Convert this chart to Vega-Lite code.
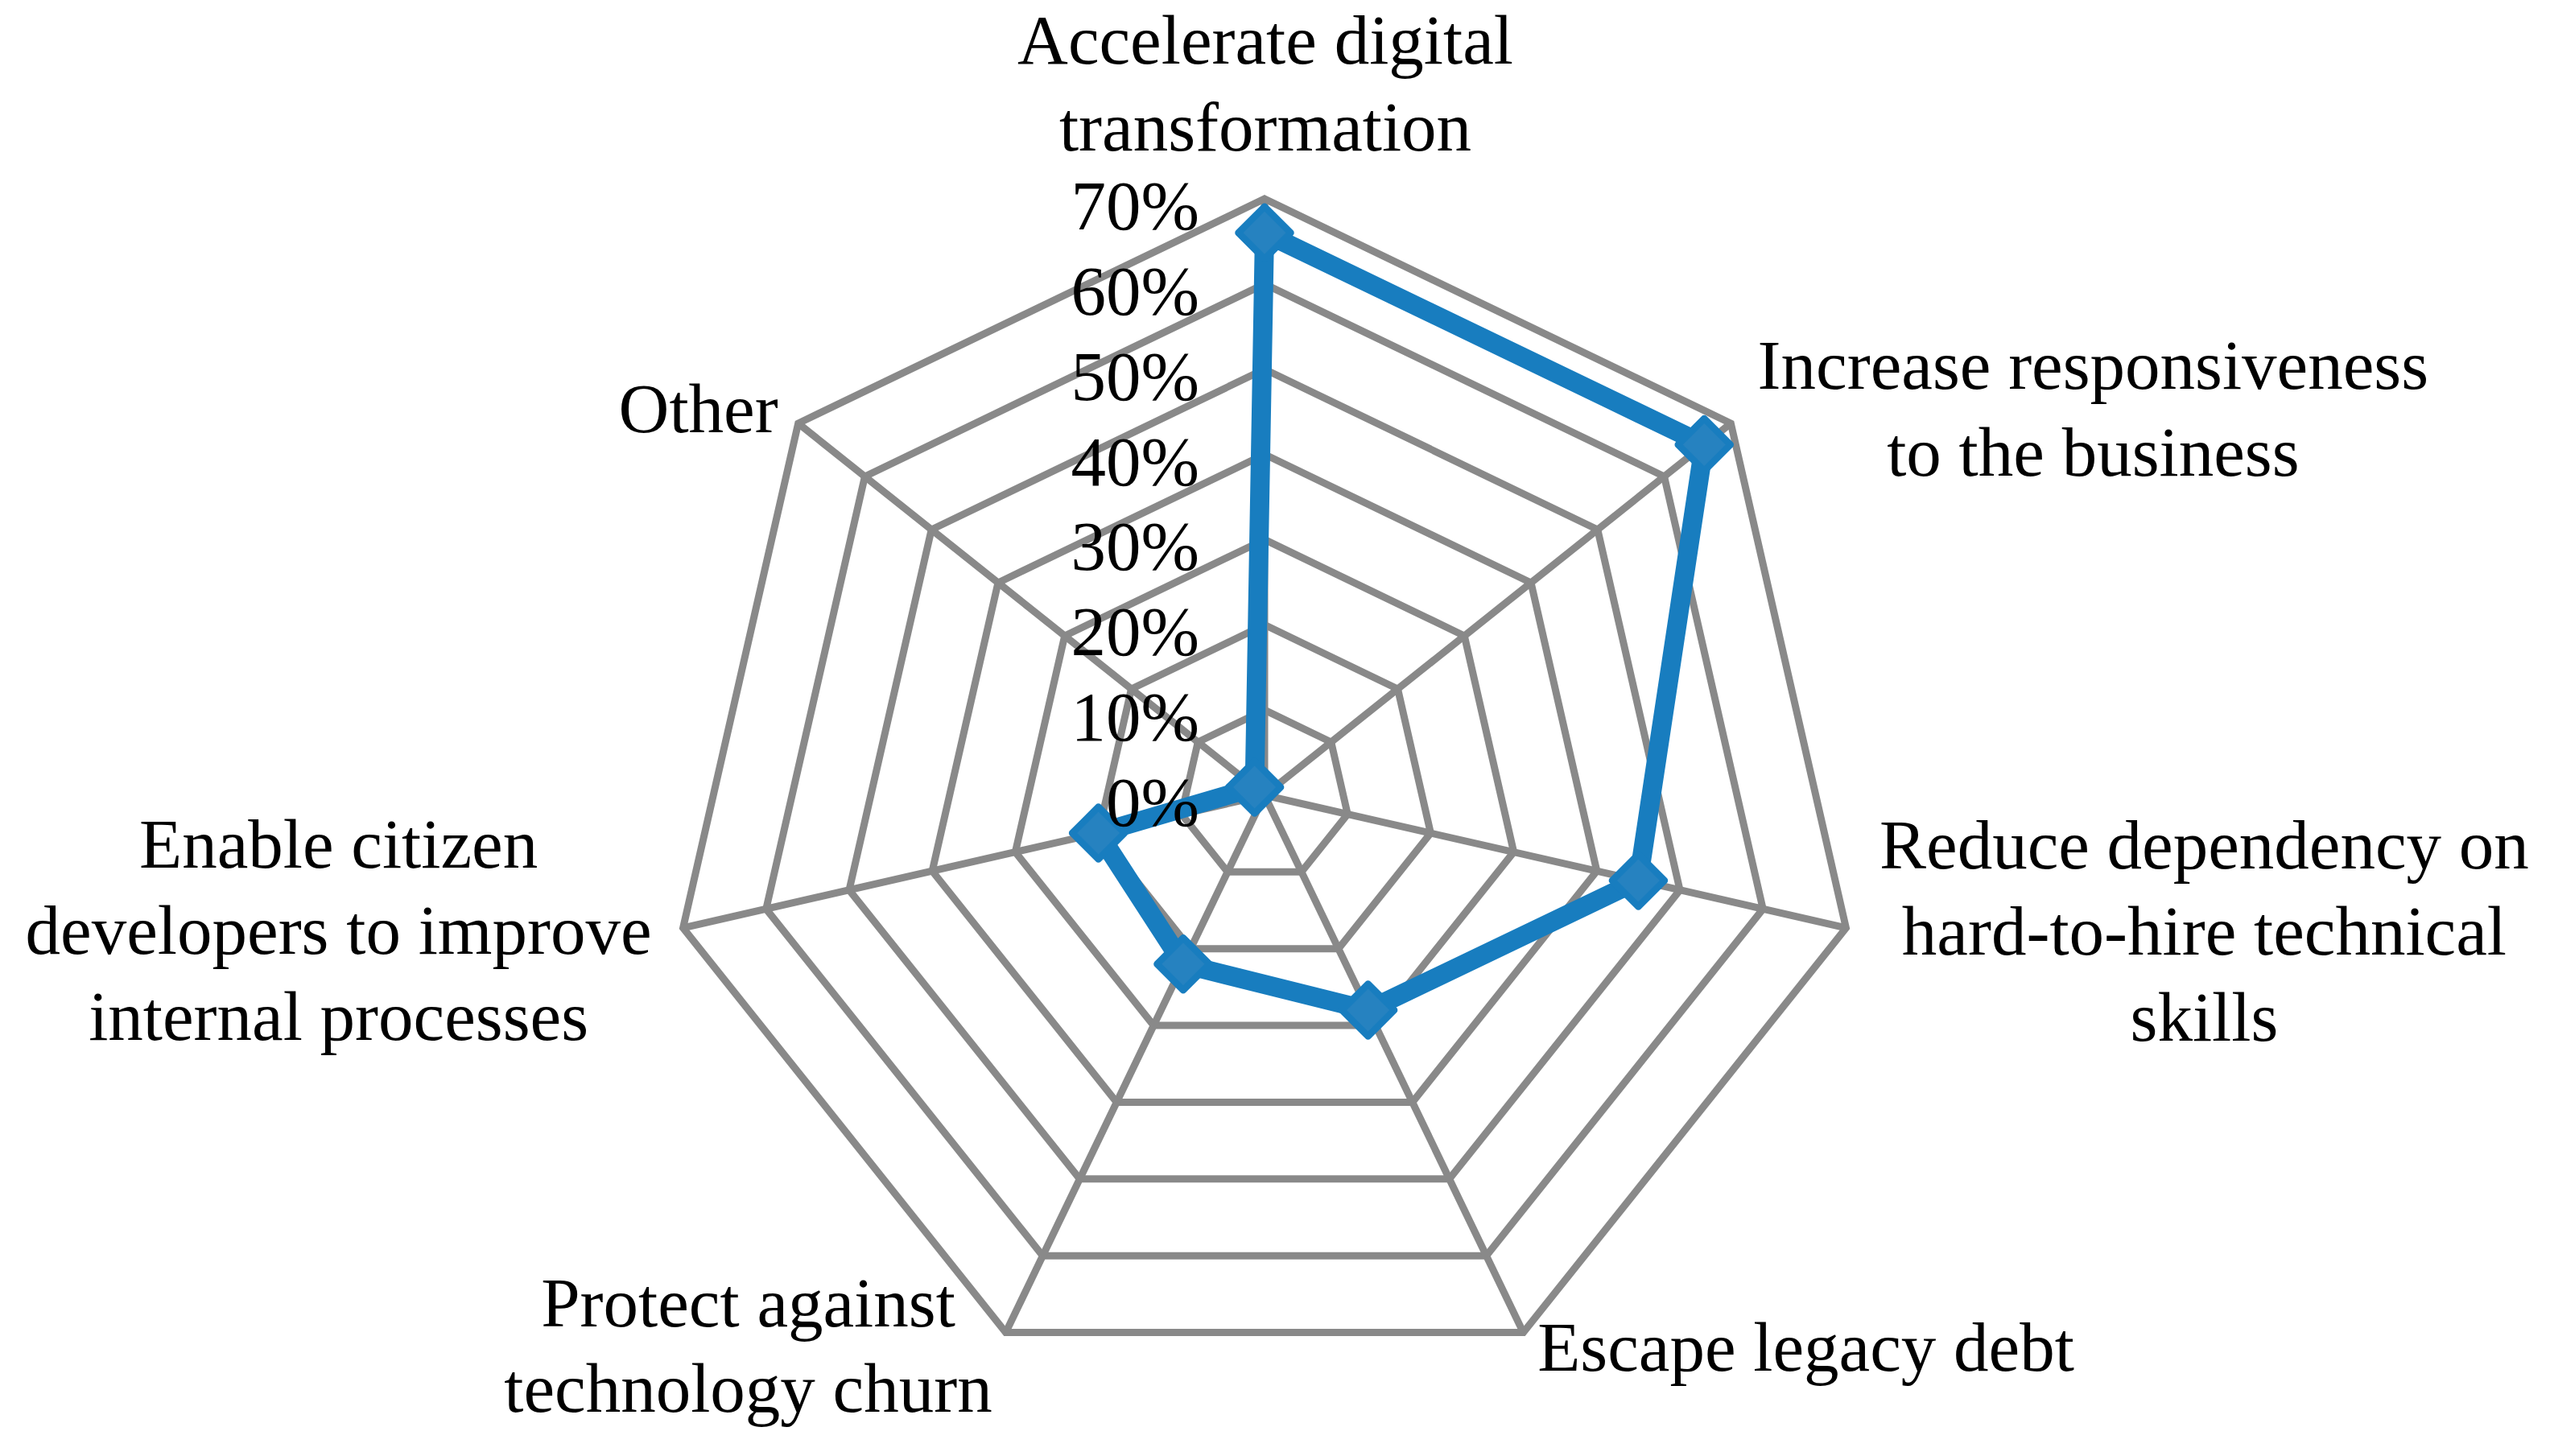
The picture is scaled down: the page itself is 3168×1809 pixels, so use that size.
{
  "$schema": "https://vega.github.io/schema/vega-lite/v6.json",
  "width": 3168,
  "height": 1809,
  "autosize": {"type": "none"},
  "padding": 0,
  "background": "#ffffff",
  "config": {
    "view": {"stroke": null},
    "text": {"font": "Liberation Serif", "fontSize": 87, "color": "#000000"}
  },
  "datasets": {
    "survey": [
      {"idx": 0, "category": "Accelerate digital\ntransformation", "value": 0.66},
      {"idx": 1, "category": "Increase responsiveness\nto the business", "value": 0.66},
      {"idx": 2, "category": "Reduce dependency on\nhard-to-hire technical\nskills", "value": 0.45},
      {"idx": 3, "category": "Escape legacy debt", "value": 0.28},
      {"idx": 4, "category": "Protect against\ntechnology churn", "value": 0.22},
      {"idx": 5, "category": "Enable citizen\ndevelopers to improve\ninternal processes", "value": 0.20},
      {"idx": 6, "category": "Other", "value": 0.015}
    ],
    "levels": [
      {"ring": 0.0, "k": [0, 1, 2, 3, 4, 5, 6]},
      {"ring": 0.1, "k": [0, 1, 2, 3, 4, 5, 6]},
      {"ring": 0.2, "k": [0, 1, 2, 3, 4, 5, 6]},
      {"ring": 0.3, "k": [0, 1, 2, 3, 4, 5, 6]},
      {"ring": 0.4, "k": [0, 1, 2, 3, 4, 5, 6]},
      {"ring": 0.5, "k": [0, 1, 2, 3, 4, 5, 6]},
      {"ring": 0.6, "k": [0, 1, 2, 3, 4, 5, 6]},
      {"ring": 0.7, "k": [0, 1, 2, 3, 4, 5, 6]}
    ]
  },
  "layer": [
    {
      "data": {"name": "levels"},
      "transform": [
        {"filter": "datum.ring > 0"},
        {"flatten": ["k"]},
        {"calculate": "datum.k * 2 * PI / 7", "as": "a"},
        {"calculate": "datum.ring * sin(datum.a)", "as": "gx"},
        {"calculate": "datum.ring * cos(datum.a)", "as": "gy"}
      ],
      "mark": {"type": "line", "interpolate": "linear-closed", "stroke": "#898989", "strokeWidth": 9},
      "encoding": {
        "x": {"field": "gx", "type": "quantitative", "axis": null, "scale": {"domain": [-1.48408, 1.50864], "zero": false, "nice": false}},
        "y": {"field": "gy", "type": "quantitative", "axis": null, "scale": {"domain": [-0.77558, 0.93333], "zero": false, "nice": false}},
        "detail": {"field": "ring", "type": "quantitative"},
        "order": {"field": "k", "type": "quantitative"}
      }
    },
    {
      "data": {"name": "survey"},
      "transform": [
        {"calculate": "datum.idx * 2 * PI / 7", "as": "a"},
        {"calculate": "0", "as": "o"},
        {"calculate": "0.7 * sin(datum.a)", "as": "sx"},
        {"calculate": "0.7 * cos(datum.a)", "as": "sy"}
      ],
      "mark": {"type": "rule", "stroke": "#898989", "strokeWidth": 9},
      "encoding": {
        "x": {"field": "o", "type": "quantitative", "axis": null, "scale": {"domain": [-1.48408, 1.50864], "zero": false, "nice": false}},
        "y": {"field": "o", "type": "quantitative", "axis": null, "scale": {"domain": [-0.77558, 0.93333], "zero": false, "nice": false}},
        "x2": {"field": "sx"},
        "y2": {"field": "sy"}
      }
    },
    {
      "data": {"name": "survey"},
      "transform": [
        {"calculate": "datum.idx * 2 * PI / 7", "as": "a"},
        {"calculate": "datum.value * sin(datum.a)", "as": "px"},
        {"calculate": "datum.value * cos(datum.a)", "as": "py"}
      ],
      "mark": {"type": "line", "interpolate": "linear-closed", "stroke": "#187dbf", "strokeWidth": 24},
      "encoding": {
        "x": {"field": "px", "type": "quantitative", "axis": null, "scale": {"domain": [-1.48408, 1.50864], "zero": false, "nice": false}},
        "y": {"field": "py", "type": "quantitative", "axis": null, "scale": {"domain": [-0.77558, 0.93333], "zero": false, "nice": false}},
        "order": {"field": "idx", "type": "quantitative"}
      }
    },
    {
      "data": {"name": "survey"},
      "transform": [
        {"calculate": "datum.idx * 2 * PI / 7", "as": "a"},
        {"calculate": "datum.value * sin(datum.a)", "as": "px"},
        {"calculate": "datum.value * cos(datum.a)", "as": "py"}
      ],
      "mark": {"type": "point", "shape": "diamond", "size": 4225, "filled": true, "fill": "#2682c0", "stroke": "#187dbf", "strokeWidth": 8.5, "strokeJoin": "round", "opacity": 1},
      "encoding": {
        "x": {"field": "px", "type": "quantitative", "axis": null, "scale": {"domain": [-1.48408, 1.50864], "zero": false, "nice": false}},
        "y": {"field": "py", "type": "quantitative", "axis": null, "scale": {"domain": [-0.77558, 0.93333], "zero": false, "nice": false}}
      }
    },
    {
      "data": {"name": "levels"},
      "transform": [
        {"calculate": "0", "as": "o"}
      ],
      "mark": {"type": "text", "align": "right", "baseline": "alphabetic", "dx": -81, "dy": 38},
      "encoding": {
        "x": {"field": "o", "type": "quantitative", "axis": null, "scale": {"domain": [-1.48408, 1.50864], "zero": false, "nice": false}},
        "y": {"field": "ring", "type": "quantitative", "axis": null, "scale": {"domain": [-0.77558, 0.93333], "zero": false, "nice": false}},
        "text": {"field": "ring", "type": "quantitative", "format": ".0%"}
      }
    },
    {
      "data": {"name": "survey"},
      "transform": [
        {"calculate": "datum.idx * 2 * PI / 7", "as": "a"},
        {"calculate": "0.7 * sin(datum.a)", "as": "lx"},
        {"calculate": "0.7 * cos(datum.a)", "as": "ly"}
      ],
      "encoding": {
        "x": {"field": "lx", "type": "quantitative", "axis": null, "scale": {"domain": [-1.48408, 1.50864], "zero": false, "nice": false}},
        "y": {"field": "ly", "type": "quantitative", "axis": null, "scale": {"domain": [-0.77558, 0.93333], "zero": false, "nice": false}},
        "text": {"field": "category", "type": "nominal"}
      },
      "layer": [
        {"transform": [{"filter": "datum.idx == 0"}], "mark": {"type": "text", "align": "center", "baseline": "alphabetic", "lineBreak": "\n", "lineHeight": 108, "dx": 1, "dy": -168}},
        {"transform": [{"filter": "datum.idx == 1"}], "mark": {"type": "text", "align": "center", "baseline": "alphabetic", "lineBreak": "\n", "lineHeight": 108, "dx": 450, "dy": -43}},
        {"transform": [{"filter": "datum.idx == 2"}], "mark": {"type": "text", "align": "center", "baseline": "alphabetic", "lineBreak": "\n", "lineHeight": 107, "dx": 445, "dy": -74}},
        {"transform": [{"filter": "datum.idx == 3"}], "mark": {"type": "text", "align": "center", "baseline": "alphabetic", "lineBreak": "\n", "lineHeight": 107, "dx": 351, "dy": 47}},
        {"transform": [{"filter": "datum.idx == 4"}], "mark": {"type": "text", "align": "center", "baseline": "alphabetic", "lineBreak": "\n", "lineHeight": 106, "dx": -320, "dy": -8}},
        {"transform": [{"filter": "datum.idx == 5"}], "mark": {"type": "text", "align": "center", "baseline": "alphabetic", "lineBreak": "\n", "lineHeight": 107, "dx": -428, "dy": -75}},
        {"transform": [{"filter": "datum.idx == 6"}], "mark": {"type": "text", "align": "center", "baseline": "alphabetic", "lineBreak": "\n", "lineHeight": 107, "dx": -124, "dy": 11}}
      ]
    }
  ]
}
